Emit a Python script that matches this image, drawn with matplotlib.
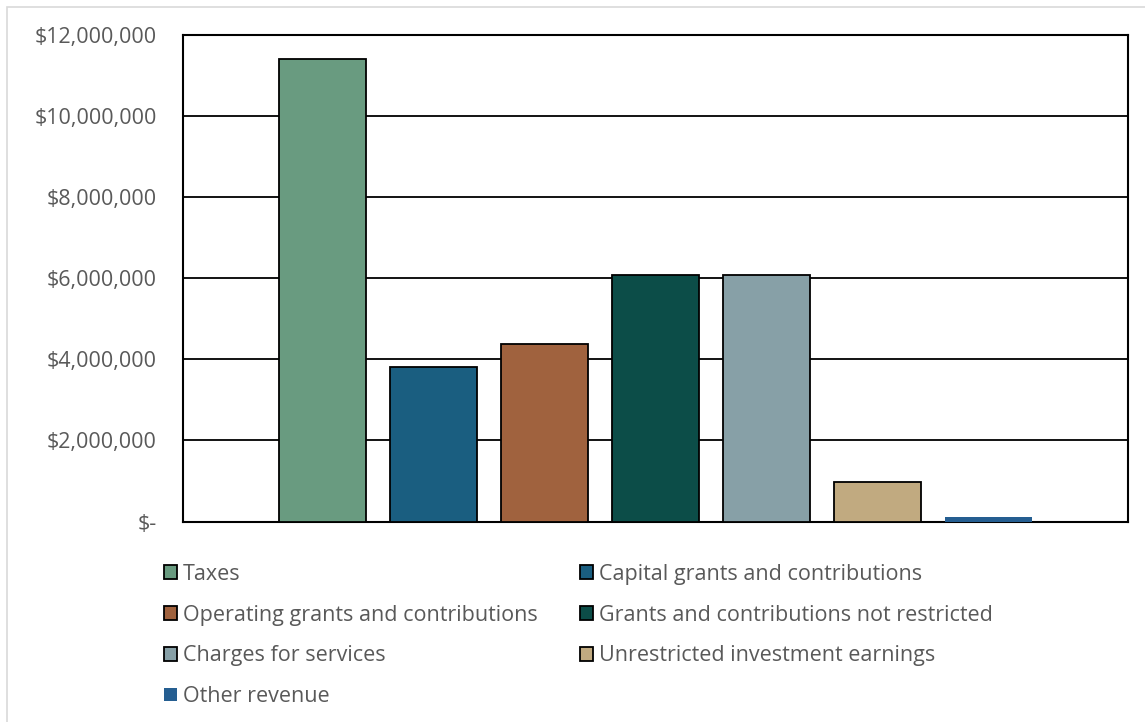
import numpy as np
import matplotlib.pyplot as plt
from matplotlib.patches import Rectangle
from matplotlib.ticker import FuncFormatter

plt.rcParams['font.family'] = ['Open Sans', 'DejaVu Sans']

series = ['Taxes', 'Capital grants and contributions',
          'Operating grants and contributions', 'Grants and contributions not restricted',
          'Charges for services', 'Unrestricted investment earnings', 'Other revenue']
values = [11420000, 3810000, 4370000, 6090000, 6090000, 975000, 105000]
colors = ['#699B80', '#1A5E80', '#A0623E', '#0C4D48', '#87A0A7', '#C1AA80', '#255E91']
edges = ['black'] * 6 + ['none']

text_col = '#595959'

fig = plt.figure(figsize=(11.45, 7.22), dpi=100)
ax = fig.add_axes([0.1598, 0.2777, 0.8252, 0.6738])

# light outer frame (only top and left visible in the original)
fig.patches.append(Rectangle((7 / 1145, -0.1), 1.2, 1 - 7 / 722 + 0.1,
                             transform=fig.transFigure, fill=False,
                             edgecolor='#D9D9D9', lw=1.2))

step = 0.1175
width = 0.092
xs = (np.arange(len(values)) - (len(values) - 1) / 2) * step
for x, v, c, e, name in zip(xs, values, colors, edges, series):
    ax.bar(x, v, width=width, color=c, edgecolor=e, linewidth=1.3 if e != 'none' else 0,
           label=name, zorder=3)

ax.set_xlim(-0.5, 0.5)
ax.set_ylim(0, 12000000)
ax.set_yticks(np.arange(0, 12000001, 2000000))
ax.yaxis.set_major_formatter(FuncFormatter(lambda v, p: '$-' if v == 0 else f'${v:,.0f}'))
ax.set_xticks([])
ax.tick_params(axis='y', length=0, pad=19, labelsize=15.5, labelcolor=text_col)
ax.grid(axis='y', color='black', lw=1.3, zorder=0)
for s in ax.spines.values():
    s.set_color('black')
    s.set_linewidth(1.5)

# legend filled row by row like the original
handles, labels = ax.get_legend_handles_labels()
order = [0, 2, 4, 6, 1, 3, 5]
leg = fig.legend([handles[i] for i in order], [labels[i] for i in order],
                 loc='upper left', bbox_to_anchor=(0.1266, 0.246),
                 ncol=2, frameon=False, fontsize=15.5, handlelength=0.6,
                 handleheight=0.6, handletextpad=0.25, columnspacing=2.0,
                 labelspacing=0.92, labelcolor=text_col)

fig.savefig('out.png', dpi=100)
